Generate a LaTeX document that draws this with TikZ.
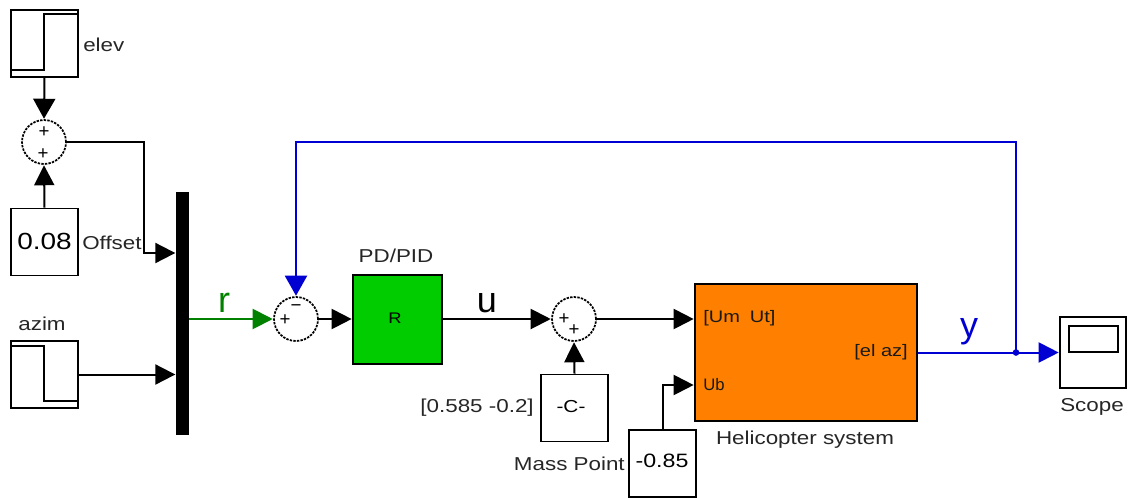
\documentclass[tikz,border=0pt]{standalone}
\usepackage{fontspec}
\setmainfont{Liberation Sans}
\newfontfamily\stfont[FakeStretch=1.2]{Liberation Sans}
\usetikzlibrary{arrows.meta}
\definecolor{sgreen}{RGB}{0,130,0}
\definecolor{sblue}{RGB}{0,0,210}
\definecolor{rgreen}{RGB}{0,204,0}
\definecolor{horange}{RGB}{255,128,0}
\tikzset{
  x=0.75pt,y=-0.75pt,
  block/.style={draw=black,line width=1.4pt,fill=white,inner sep=0pt,minimum width=50.25pt,minimum height=50.25pt},
  sumnode/.style={circle,draw=black,line width=1.3pt,dash pattern=on 1.8pt off 0.9pt,fill=white,inner sep=0pt,minimum size=33pt},
  wire/.style={line width=1.5pt,draw=black,-{Triangle[length=15pt,width=15pt]},shorten >=0.3pt},
  plainwire/.style={line width=1.4pt},
  lab/.style={inner sep=0pt,font=\stfont\fontsize{14}{16}\selectfont,text=black!85},
  inlab/.style={inner sep=0pt,font=\stfont\fontsize{12.5}{15}\selectfont,text=black!90},
  sign/.style={inner sep=0pt,font=\fontsize{14}{14}\selectfont},
  big/.style={inner sep=0pt,font=\fontsize{27}{30}\selectfont}
}
\begin{document}
\begin{tikzpicture}
\useasboundingbox (0,0) rectangle (1128,497);
% blocks
\node[block] (elev) at (44.5,43.5) {};
\node[block] (offset) at (44.5,242) {};
\node[block] (azim) at (44.5,374.5) {};
\node[inner sep=0pt,fill=black,minimum width=9.75pt,minimum height=182.25pt] (mux) at (182.5,313.5) {};
\node[sumnode] (sumA) at (44,142) {};
\node[sumnode] (sumB) at (296,319) {};
\node[sumnode] (sumC) at (574,319) {};
\node[block,fill=rgreen,minimum width=66.75pt,minimum height=66.75pt] (ctrl) at (397.5,319.5) {};
\node[block] (mass) at (574.5,408) {};
\node[block] (ub) at (662.5,463.5) {};
\node[block,fill=horange,minimum width=166.5pt,minimum height=102.75pt] (heli) at (806,352.5) {};
\node[block,minimum width=49.5pt,minimum height=53.25pt] (scope) at (1093,352.5) {};
\node[draw=black,line width=1.4pt,inner sep=0pt,minimum width=36.75pt,minimum height=19.5pt] (screen) at (1093.5,339) {};
% block contents
\node[sign] (t008) at (44.5,241) {\stfont\fontsize{17.5}{18}\selectfont 0.08};
\node[sign] (tR) at (395,318) {\stfont\fontsize{11.5}{12}\selectfont R};
\node[sign] (tC) at (571,407) {\stfont\fontsize{13}{13}\selectfont -C-};
\node[sign] (t085) at (662,461) {\stfont\fontsize{14.5}{15}\selectfont -0.85};
\node[inlab,anchor=west] (um) at (703,318) {[Um\hspace{0.6em}Ut]};
\node[inlab,anchor=west,font=\fontsize{12.5}{15}\selectfont] (ubl) at (703,385) {Ub};
\node[inlab,anchor=east] (elaz) at (908,352) {[el az]};
% signal glyphs
\draw[plainwire] (elev.west|-0,70) -- (44,70) -- (44,14) -- (elev.east|-0,14);
\draw[plainwire] (azim.west|-0,346) -- (44,346) -- (44,401) -- (azim.east|-0,401);
% signs
\node[sign] (pa) at (44,132) {+};
\node[sign] (pb) at (43,154) {+};
\node[sign] (pc) at (285,320) {+};
\node[sign] (md) at (296,308) {\textminus};
\node[sign] (pe) at (564,319) {+};
\node[sign] (pf) at (574,330) {+};
% labels
\node[lab,anchor=west] (lelev) at (83,45) {elev};
\node[lab,anchor=west] (loff) at (82,243) {Offset};
\node[lab] (lazim) at (42,324) {azim};
\node[lab] (lpd) at (396,256) {PD/PID};
\node[lab,anchor=east] (lmat) at (534,408) {[0.585 -0.2]};
\node[lab,anchor=east] (lmass) at (625,464) {Mass Point};
\node[lab] (lheli) at (805,440) {Helicopter system};
\node[lab] (lscope) at (1092,407) {Scope};
\node[big,text=sgreen] (lr) at (224,303) {r};
\node[big] (lu) at (487,303) {u};
\node[big,text=sblue] (ly) at (969,332) {y};
% connectors
\draw[wire,-{Triangle[length=15pt,width=16.5pt]}] (elev.south) -- (sumA.north);
\draw[wire] (offset.north) -- (sumA.south);
\coordinate (muxa) at (mux.west|-0,253);
\coordinate (muxb) at (mux.west|-azim.east);
\coordinate (muxc) at (mux.east|-sumB.west);
\draw[wire] (sumA.east) -- (144,142) -- (144,253) -- (muxa);
\draw[wire] (azim.east) -- (muxb);
\draw[wire,color=sgreen] (muxc) -- (sumB.west);
\draw[wire] (sumB.east) -- (ctrl.west|-sumB.east);
\draw[wire] (ctrl.east|-sumC.west) -- (sumC.west);
\draw[wire] (sumC.east) -- (heli.west|-sumC.east);
\draw[wire] (mass.north) -- (sumC.south);
\coordinate (ubin) at (heli.west|-0,385);
\draw[wire] (ub.north) -- (ub.north|-ubin) -- (ubin);
\node[circle,fill=sblue,inner sep=0pt,minimum size=5pt] (branch) at (1016,352.5) {};
\draw[wire,color=sblue] (heli.east) -- (branch.center) -- (scope.west);
\coordinate (fbtop) at (branch|-0,142);
\draw[wire,color=sblue,-{Triangle[length=15pt,width=16.5pt]}] (branch.center) -- (fbtop) -- (fbtop-|sumB) -- (sumB.north);
\end{tikzpicture}
\end{document}
